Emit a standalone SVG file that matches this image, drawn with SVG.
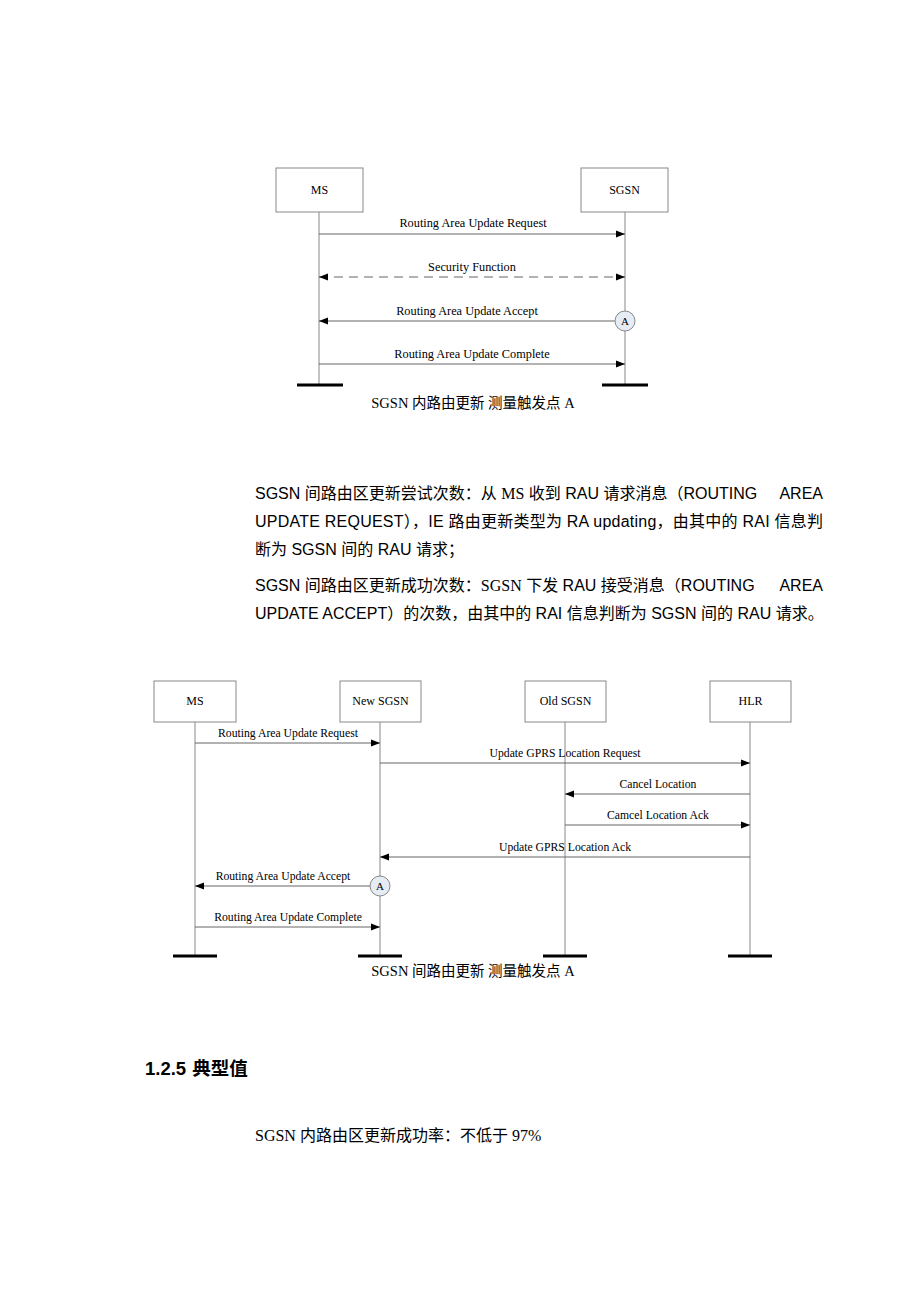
<svg xmlns="http://www.w3.org/2000/svg" width="920" height="1302" viewBox="0 0 920 1302">
<style>
.box{fill:#fff;stroke:#888;stroke-width:1}
.life{stroke:#888;stroke-width:1}
.bar{stroke:#000;stroke-width:3}
.msg{stroke:#666;stroke-width:1;fill:none}
.dash{stroke-dasharray:9,6}
.lbl{font-family:"Liberation Serif","Noto Sans CJK SC",serif;font-size:12.3px;fill:#000;text-anchor:middle}
.lbl2{font-family:"Liberation Serif","Noto Sans CJK SC",serif;font-size:11.7px;fill:#000;text-anchor:middle}
.nm{font-family:"Liberation Serif","Noto Sans CJK SC",serif;font-size:12px;fill:#000;text-anchor:middle}
.cap{font-family:"Liberation Serif","Noto Sans CJK SC",serif;font-size:14.5px;fill:#000;text-anchor:middle}
.body{font-family:"Liberation Sans","Noto Sans CJK SC",sans-serif;font-size:16px;fill:#000}
.circ{fill:#e6ecf4;stroke:#888;stroke-width:1}
.ca{font-family:"Liberation Serif",serif;font-size:11px;fill:#000;text-anchor:middle}
</style>
<defs>
<marker id="ah" viewBox="0 0 10 10" refX="10" refY="5" markerWidth="9" markerHeight="9" markerUnits="userSpaceOnUse" orient="auto-start-reverse">
<path d="M0,1 L10,5 L0,9 z" fill="#000"/>
</marker>
</defs>
<rect width="920" height="1302" fill="#fff"/>

<!-- Diagram 1 -->
<g id="d1-ms">
<rect class="box" x="276" y="168" width="87" height="44"/>
<text class="nm" x="319.5" y="194">MS</text>
<line class="life" x1="319" y1="212" x2="319" y2="385"/>
<line class="bar" x1="297" y1="385" x2="343" y2="385"/>
</g>
<g id="d1-sgsn">
<rect class="box" x="581" y="168" width="87" height="44"/>
<text class="nm" x="624.5" y="194">SGSN</text>
<line class="life" x1="625" y1="212" x2="625" y2="385"/>
<line class="bar" x1="602" y1="385" x2="648" y2="385"/>
</g>
<g id="d1-connectors">
<line class="msg" x1="319" y1="234" x2="625" y2="234" marker-end="url(#ah)"/>
<text class="lbl" x="473" y="227">Routing Area Update Request</text>
<line class="msg dash" x1="319" y1="277" x2="625" y2="277" marker-start="url(#ah)" marker-end="url(#ah)"/>
<text class="lbl" x="472" y="271">Security Function</text>
<line class="msg" x1="615" y1="321" x2="319" y2="321" marker-end="url(#ah)"/>
<text class="lbl" x="467" y="315">Routing Area Update Accept</text>
<line class="msg" x1="319" y1="364" x2="625" y2="364" marker-end="url(#ah)"/>
<text class="lbl" x="472" y="358">Routing Area Update Complete</text>
</g>
<g id="d1-pointA">
<circle class="circ" cx="625" cy="321" r="10"/>
<text class="ca" x="625" y="325">A</text>
</g>
<text class="cap" x="473" y="408">SGSN 内路由更新  测量触发点 A</text>

<!-- Body text -->
<g id="body-text">
<text class="body" x="255" y="499">SGSN 间路由区更新尝试次数：从 <tspan font-family="Liberation Serif">MS</tspan> 收到 RAU 请求消息（ROUTING</text>
<text class="body" x="823" y="499" text-anchor="end">AREA</text>
<text class="body" x="255" y="527" textLength="568" lengthAdjust="spacing">UPDATE REQUEST），IE 路由更新类型为 RA updating，由其中的 RAI 信息判</text>
<text class="body" x="255" y="555">断为 SGSN 间的 RAU 请求；</text>
<text class="body" x="255" y="591">SGSN 间路由区更新成功次数：<tspan font-family="Liberation Serif">SGSN</tspan> 下发 RAU 接受消息（ROUTING</text>
<text class="body" x="823" y="591" text-anchor="end">AREA</text>
<text class="body" x="255" y="619">UPDATE ACCEPT）的次数，由其中的 RAI 信息判断为 SGSN 间的 RAU 请求。</text>
</g>

<!-- Diagram 2 -->
<g id="d2-ms">
<rect class="box" x="154" y="681" width="82" height="41"/>
<text class="nm" x="195" y="705">MS</text>
<line class="life" x1="195" y1="722" x2="195" y2="956"/>
<line class="bar" x1="173" y1="956" x2="217" y2="956"/>
</g>
<g id="d2-newsgsn">
<rect class="box" x="340" y="681" width="81" height="41"/>
<text class="nm" x="380.5" y="705">New SGSN</text>
<line class="life" x1="380" y1="722" x2="380" y2="956"/>
<line class="bar" x1="358" y1="956" x2="402" y2="956"/>
</g>
<g id="d2-oldsgsn">
<rect class="box" x="525" y="681" width="81" height="41"/>
<text class="nm" x="565.5" y="705">Old SGSN</text>
<line class="life" x1="565" y1="722" x2="565" y2="956"/>
<line class="bar" x1="543" y1="956" x2="587" y2="956"/>
</g>
<g id="d2-hlr">
<rect class="box" x="710" y="681" width="81" height="41"/>
<text class="nm" x="750.5" y="705">HLR</text>
<line class="life" x1="750" y1="722" x2="750" y2="956"/>
<line class="bar" x1="728" y1="956" x2="772" y2="956"/>
</g>
<g id="d2-connectors">
<line class="msg" x1="195" y1="743" x2="380" y2="743" marker-end="url(#ah)"/>
<text class="lbl2" x="288" y="737">Routing Area Update Request</text>
<line class="msg" x1="380" y1="763" x2="750" y2="763" marker-end="url(#ah)"/>
<text class="lbl2" x="565" y="757">Update GPRS Location Request</text>
<line class="msg" x1="750" y1="794" x2="565" y2="794" marker-end="url(#ah)"/>
<text class="lbl2" x="658" y="788">Cancel Location</text>
<line class="msg" x1="565" y1="825" x2="750" y2="825" marker-end="url(#ah)"/>
<text class="lbl2" x="658" y="819">Camcel Location Ack</text>
<line class="msg" x1="750" y1="857" x2="380" y2="857" marker-end="url(#ah)"/>
<text class="lbl2" x="565" y="851">Update GPRS Location Ack</text>
<line class="msg" x1="370" y1="886" x2="195" y2="886" marker-end="url(#ah)"/>
<text class="lbl2" x="283" y="880">Routing Area Update Accept</text>
<line class="msg" x1="195" y1="927" x2="380" y2="927" marker-end="url(#ah)"/>
<text class="lbl2" x="288" y="921">Routing Area Update Complete</text>
</g>
<g id="d2-pointA">
<circle class="circ" cx="380" cy="886" r="10"/>
<text class="ca" x="380" y="890">A</text>
</g>
<text class="cap" x="473" y="976">SGSN 间路由更新  测量触发点 A</text>

<text x="145" y="1075" font-family="Liberation Sans,'Noto Sans CJK SC',sans-serif" font-size="18.5" font-weight="bold" fill="#000">1.2.5<tspan dx="6">典型值</tspan></text>
<text x="255" y="1141" font-family="'Liberation Serif','Noto Sans CJK SC',serif" font-size="16" fill="#000">SGSN 内路由区更新成功率：不低于 97%</text>
</svg>
